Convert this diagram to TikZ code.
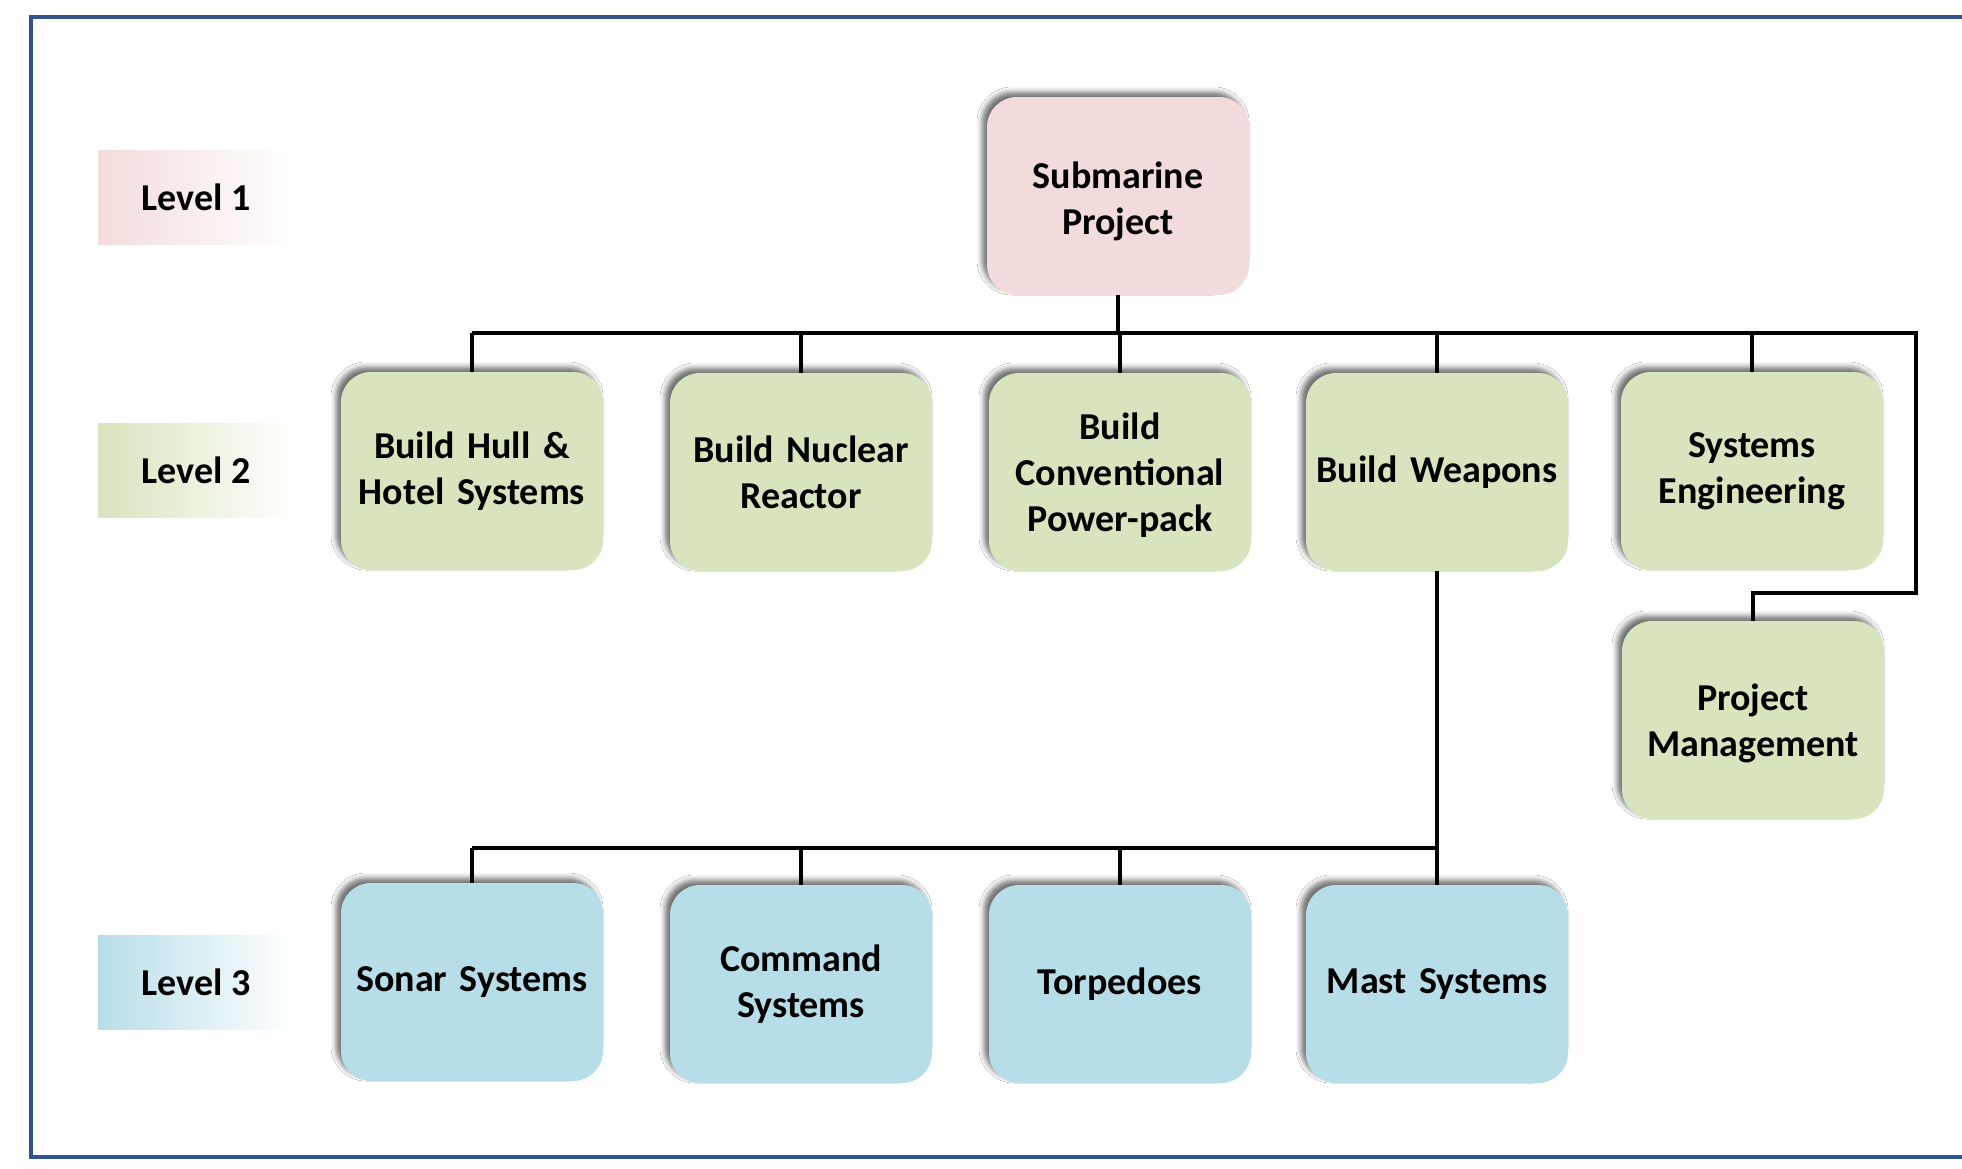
\documentclass[tikz,border=0pt]{standalone}
\usepackage{fontspec}
\setmainfont{Carlito}
\usetikzlibrary{shadows.blur}
\definecolor{pinkbox}{HTML}{F2DCDB}
\definecolor{greenbox}{HTML}{D7E4BD}
\definecolor{bluebox}{HTML}{B7DEE8}
\definecolor{framecol}{RGB}{47,85,140}
\begin{document}
\begin{tikzpicture}[x=0.5pt,y=-0.5pt,
  box/.style={draw=none, rounded corners=15pt, minimum width=131pt, minimum height=99pt,
    inner sep=2pt, align=center, text width=125pt,
    font=\fontsize{19}{23}\selectfont\bfseries,
    blur shadow={shadow xshift=-2.5pt, shadow yshift=2.5pt, shadow blur radius=2.5pt, shadow opacity=55}},
  pbox/.style={box, fill=pinkbox},
  gbox/.style={box, fill=greenbox},
  bbox/.style={box, fill=bluebox},
  lvl/.style={draw=none, minimum width=98pt, minimum height=47pt, inner sep=0pt,
    font=\fontsize{19}{23}\selectfont\bfseries},
  conn/.style={draw=black, line width=1.9pt, line join=miter}]
\useasboundingbox (0,0) rectangle (1962,1168);
\fill[white] (0,0) rectangle (1962,1168);
\draw[framecol, line width=2pt] (1962,17) -- (31,17) -- (31,1157) -- (1962,1157);

% level labels
\node[lvl, left color=pinkbox, middle color=pinkbox, right color=white] (l1) at (196,197) {Level 1};
\node[lvl, left color=greenbox, middle color=greenbox, right color=white] (l2) at (196,470) {Level 2};
\node[lvl, left color=bluebox, middle color=bluebox, right color=white] (l3) at (196,982) {Level 3};

% boxes
\node[pbox] (sub) at (1118,196) {\vphantom{X}\\[-17pt]Submarine\\Project};
\node[gbox] (hull) at (472,471) {Build Hull \&\\Hotel Systems};
\node[gbox] (nuc) at (801,472) {Build Nuclear\\Reactor};
\node[gbox] (conv) at (1120,472) {\vphantom{X}\\[-19pt]Build\\Conventional\\Power-pack};
\node[gbox] (weap) at (1437,472) {Build Weapons};
\node[gbox] (syse) at (1752,471) {Systems\\Engineering};
\node[gbox] (pm) at (1753,720) {\vphantom{X}\\[-19pt]Project\\Management};
\node[bbox] (sonar) at (472,982) {Sonar Systems};
\node[bbox] (cmd) at (801,984) {Command\\Systems};
\node[bbox] (torp) at (1120,984) {Torpedoes};
\node[bbox] (mast) at (1437,984) {Mast Systems};

% connectors level 1 -> 2
\coordinate (rc1) at (1916,333);
\coordinate (rc2) at (1916,593);
\draw[conn] (sub.south) -- (sub.south |- rc1);
\draw[conn] (hull.north |- rc1) -- (rc1) -- (rc2) -- (pm.north |- rc2) -- (pm.north);
\foreach \n in {hull,nuc,conv,weap,syse} \draw[conn] (\n.north |- rc1) -- (\n.north);

% connectors level 2 -> 3
\coordinate (b3) at (1437,848);
\draw[conn] (weap.south) -- (weap.south |- b3);
\draw[conn] (sonar.north |- b3) -- (mast.north |- b3);
\foreach \n in {sonar,cmd,torp,mast} \draw[conn] (\n.north |- b3) -- (\n.north);
\end{tikzpicture}
\end{document}
